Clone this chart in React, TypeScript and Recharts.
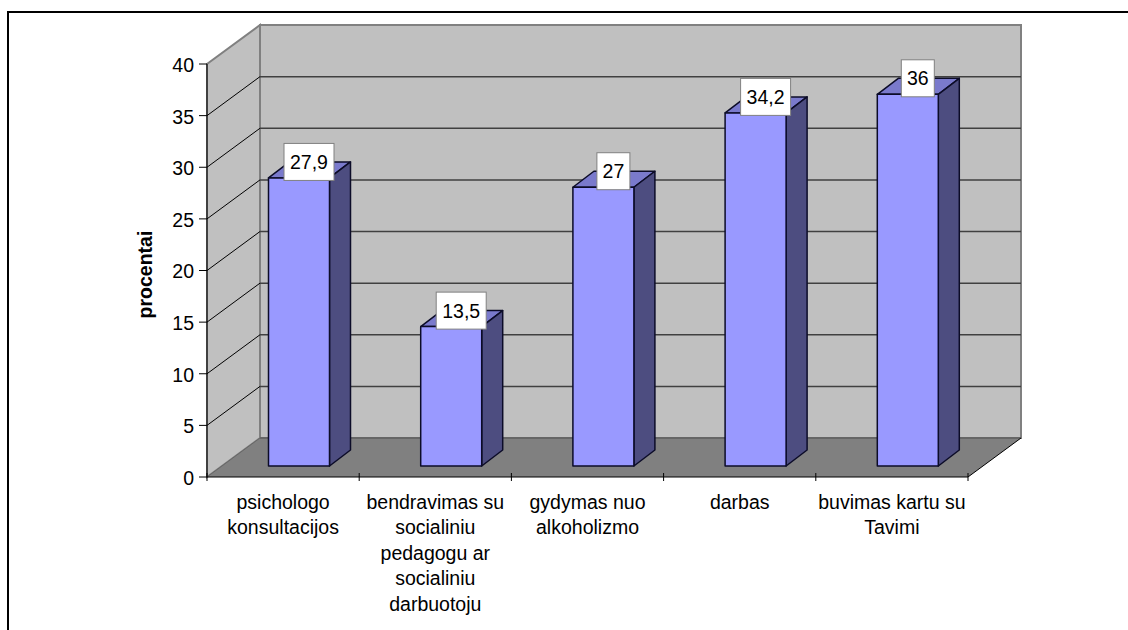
import React from 'react';
import { BarChart, Bar, XAxis, YAxis, CartesianGrid, LabelList } from 'recharts';

const categories = [
  ['psichologo', 'konsultacijos'],
  ['bendravimas su', 'socialiniu', 'pedagogu ar', 'socialiniu', 'darbuotoju'],
  ['gydymas nuo', 'alkoholizmo'],
  ['darbas'],
  ['buvimas kartu su', 'Tavimi'],
];
const values = [27.9, 13.5, 27, 34.2, 36];
const yTicks = [0, 5, 10, 15, 20, 25, 30, 35, 40];

const data = categories.map((lines, i) => ({ name: lines.join(' '), value: values[i] }));

const FONT = '"Liberation Sans", Arial, sans-serif';
// 3D look: how far the back wall sits from the axes, and how deep a bar is
const WALL_DX = 53;
const WALL_DY = 39;
const BAR_IN_X = 15.5;
const BAR_IN_Y = 11;
const BAR_DX = 21;
const BAR_DY = 16;

function walls(l: number, t: number, w: number, h: number) {
  const r = l + w;
  const b = t + h;
  return (
    <g>
      <rect x={l + WALL_DX} y={t - WALL_DY} width={w} height={h} fill="#c0c0c0" stroke="#808080" strokeWidth={2} />
      <polygon
        points={`${l},${b} ${l + WALL_DX},${b - WALL_DY} ${l + WALL_DX},${t - WALL_DY} ${l},${t}`}
        fill="#c0c0c0"
        stroke="#808080"
        strokeWidth={2}
      />
      <polygon points={`${l},${b} ${r},${b} ${r + WALL_DX},${b - WALL_DY} ${l + WALL_DX},${b - WALL_DY}`} fill="#808080" />
      <line x1={l + WALL_DX} y1={b - WALL_DY} x2={r + WALL_DX} y2={b - WALL_DY} stroke="#666" strokeWidth={2} />
      <line x1={r} y1={b} x2={r + WALL_DX} y2={b - WALL_DY} stroke="#000" />
      <line x1={l} y1={b} x2={l + WALL_DX} y2={b - WALL_DY} stroke="#666" />
    </g>
  );
}

// the grid maps its lines in order, so the walls go in with the first one
function gridLine(props: any) {
  const { x1, x2, y1, x, y, width, height, index } = props;
  const edge = Math.abs(y1 - y) < 1 || Math.abs(y1 - (y + height)) < 1;
  return (
    <g key={props.key}>
      {index === 0 && walls(x, y, width, height)}
      {!edge && <line x1={x1} y1={y1} x2={x1 + WALL_DX} y2={y1 - WALL_DY} stroke="#000" />}
      {!edge && (
        <line x1={x1 + WALL_DX} y1={y1 - WALL_DY} x2={x2 + WALL_DX} y2={y1 - WALL_DY} stroke="#404040" strokeWidth={1.5} />
      )}
    </g>
  );
}

function Bar3D(props: any) {
  const { x, y, width, height } = props;
  const fx = x + BAR_IN_X;
  const fy = y - BAR_IN_Y;
  return (
    <g stroke="#0c0c28" strokeWidth={1.5} strokeLinejoin="round">
      <polygon
        points={`${fx},${fy} ${fx + width},${fy} ${fx + width + BAR_DX},${fy - BAR_DY} ${fx + BAR_DX},${fy - BAR_DY}`}
        fill="#7a7acc"
      />
      <polygon
        points={`${fx + width},${fy} ${fx + width + BAR_DX},${fy - BAR_DY} ${fx + width + BAR_DX},${fy + height - BAR_DY} ${fx + width},${fy + height}`}
        fill="#4d4d80"
      />
      <rect x={fx} y={fy} width={width} height={height} fill="#9999ff" />
    </g>
  );
}

function ValueLabel(props: any) {
  const { x, y, width, value } = props;
  const text = String(value).replace('.', ',');
  const boxW = text.length > 2 ? 50 : 33;
  const cx = x + width / 2 + BAR_IN_X + 10;
  const cy = y - BAR_IN_Y - 16;
  return (
    <g>
      <rect x={cx - boxW / 2} y={cy - 18.5} width={boxW} height={37} fill="#fff" stroke="#808080" />
      <text x={cx} y={cy + 7} textAnchor="middle" fontFamily={FONT} fontSize={19.5} fill="#000">
        {text}
      </text>
    </g>
  );
}

function CategoryTick(props: any) {
  const { x, y, index, payload } = props;
  const lines = categories[index] || [payload.value];
  const half = 761 / categories.length / 2;
  return (
    <g>
      <line x1={x - half} y1={y - 12} x2={x - half} y2={y - 4} stroke="#000" />
      {index === categories.length - 1 && <line x1={x + half} y1={y - 12} x2={x + half} y2={y - 4} stroke="#000" />}
      <text textAnchor="middle" fontFamily={FONT} fontSize={19.5} fill="#000">
        {lines.map((line: string, i: number) => (
          <tspan key={i} x={x} y={y + 23.5 + i * 25.5}>
            {line}
          </tspan>
        ))}
      </text>
    </g>
  );
}

export default function App() {
  return (
    <div style={{ position: 'absolute', left: 0, top: 0, width: 1128, height: 630, overflow: 'hidden', background: '#fff' }}>
      <div
        style={{
          position: 'absolute',
          left: 7,
          top: 11,
          width: 1121,
          height: 619,
          borderTop: '2px solid #000',
          borderLeft: '2px solid #000',
        }}
      />
      <div style={{ position: 'absolute', left: 0, top: 0 }}>
        <BarChart width={1128} height={630} data={data} margin={{ top: 64, right: 160, bottom: 3, left: 147 }} barSize={61}>
          <CartesianGrid horizontal={gridLine} vertical={false} />
          <YAxis
            domain={[0, 40]}
            ticks={yTicks}
            interval={0}
            width={60}
            tickSize={8}
            tickMargin={5}
            axisLine={{ stroke: '#000' }}
            tickLine={{ stroke: '#000' }}
            tick={{ fontFamily: FONT, fontSize: 19.5, fill: '#000', dy: 1 }}
            label={{
              value: 'procentai',
              angle: -90,
              position: 'insideLeft',
              offset: -2,
              dy: 4,
              style: { fontFamily: FONT, fontSize: 19.5, fontWeight: 'bold', fill: '#000', textAnchor: 'middle' },
            }}
          />
          <XAxis
            dataKey="name"
            interval={0}
            height={150}
            tickLine={false}
            axisLine={{ stroke: '#000' }}
            tick={<CategoryTick />}
          />
          <Bar dataKey="value" isAnimationActive={false} shape={<Bar3D />}>
            <LabelList dataKey="value" content={<ValueLabel />} />
          </Bar>
        </BarChart>
      </div>
    </div>
  );
}
